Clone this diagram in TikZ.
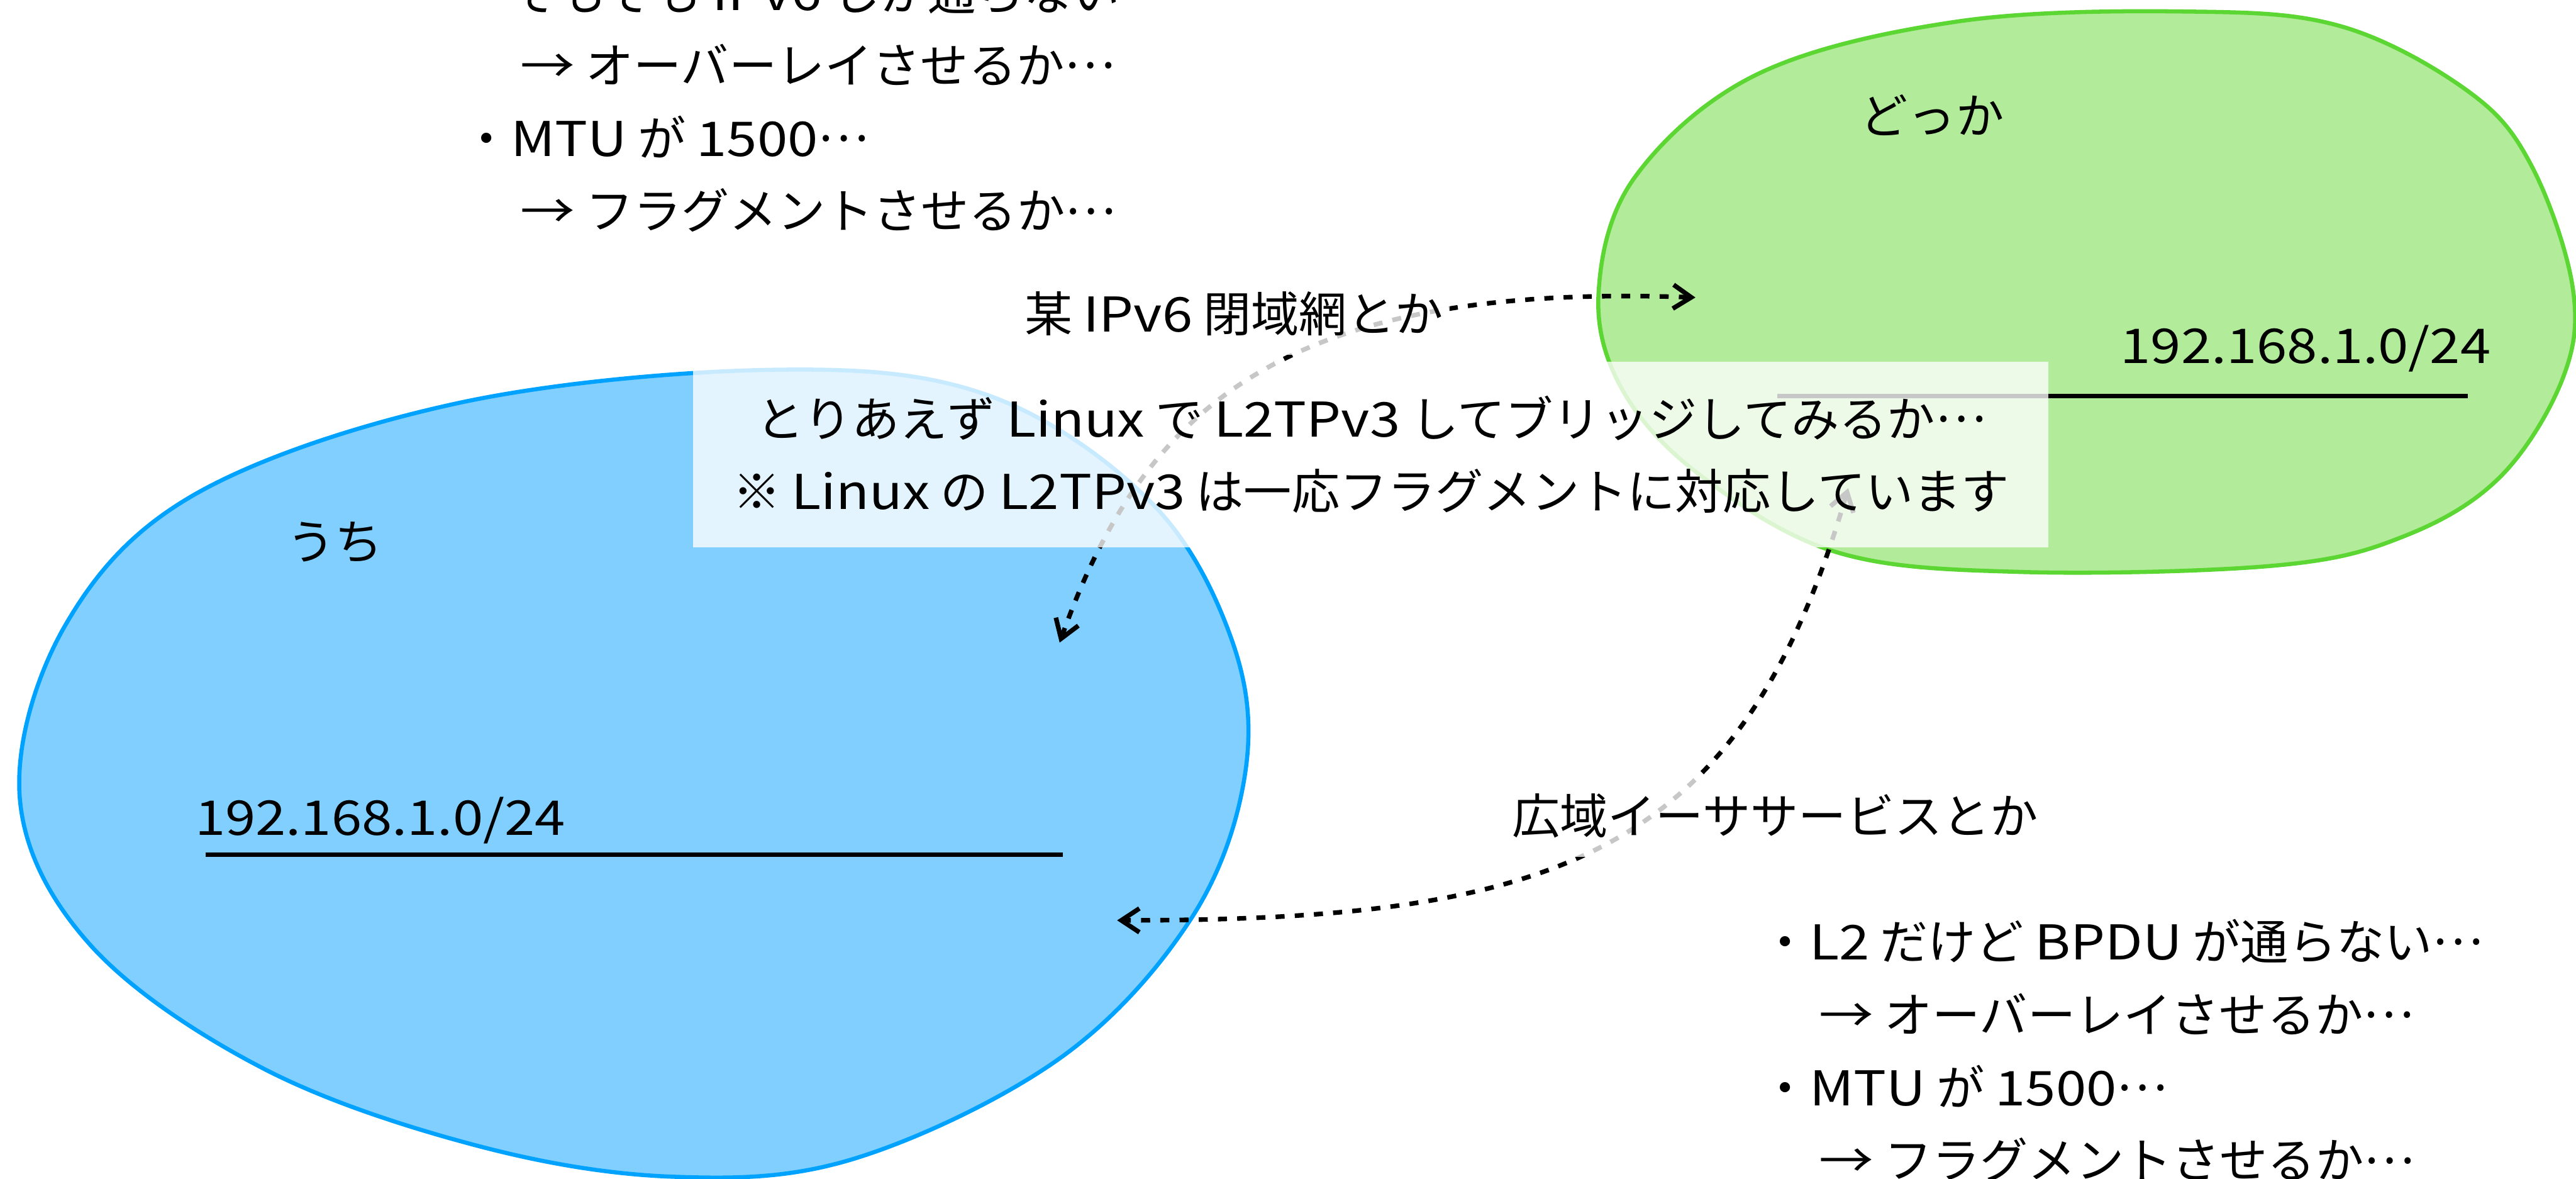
\documentclass[tikz,border=0pt]{standalone}
\usepackage{fontspec}
\setmainfont{Noto Sans CJK JP}
\newfontfamily\latinface{Noto Sans CJK JP}[FakeStretch=1.14]
\newcommand\lat[1]{{\latinface #1}}
\newcommand\ten{\raisebox{0.31em}{…}}
\newcommand\yaji{{\latinface →}}
\usetikzlibrary{arrows.meta}
\definecolor{uchifill}{HTML}{80CFFF}
\definecolor{uchiline}{HTML}{00A2FF}
\definecolor{dokkafill}{HTML}{B2EB99}
\definecolor{dokkaline}{HTML}{5CD632}

\begin{document}
\begin{tikzpicture}[
    x=0.1mm, y=-0.1mm,
    every node/.style={font=\fontsize{8.3}{12.6}\selectfont, inner sep=0pt},
    cloud/.style={line width=0.25mm},
    lan/.style={line width=0.28mm},
    link/.style={line width=0.28mm, dash pattern=on 0.55mm off 0.62mm,
      >={Straight Barb[length=1.1mm,width=1.45mm]}, <->},
    veil/.style={fill=white, fill opacity=0.78, text opacity=1},
    tag/.style={veil, minimum height=5mm, inner xsep=0.4mm}
  ]
  \path[use as bounding box, clip] (0,0) rectangle (1568,717);

  % the two sites
  \filldraw[cloud, fill=uchifill, draw=uchiline] plot[smooth cycle, tension=0.6] coordinates {
    (12,485) (40,380) (120,300) (280,245) (470,225) (600,240) (700,305)
    (750,390) (758,470) (725,559) (645,644) (520,705) (410,716)
    (290,697) (160,650) (55,575)};
  \filldraw[cloud, fill=dokkafill, draw=dokkaline] plot[smooth cycle, tension=0.6] coordinates {
    (973,179) (995,108) (1070,45) (1192,13) (1331,7) (1425,16) (1503,56)
    (1541,101) (1566,175) (1560,230) (1522,290) (1464,326) (1386,344)
    (1230,348) (1118,336) (1036,290) (988,238)};

  \node (uchi) at (204,330) {うち};
  \node (dokka) at (1176,70) {どっか};

  % segments
  \coordinate (uchi-l) at (125,520);
  \coordinate (uchi-r) at (647,520);
  \coordinate (dokka-l) at (1082,241);
  \coordinate (dokka-r) at (1502,241);
  \draw[lan] (uchi-l) -- (uchi-r);
  \draw[lan] (dokka-l) -- (dokka-r);
  \node[anchor=base west] (uchi-net) at (118,508) {\lat{192.168.1.0/24}};
  \node[anchor=base west] (dokka-net) at (1290,221) {\lat{192.168.1.0/24}};

  % links between the sites
  \coordinate (uchi-in) at (645,391);
  \coordinate (dokka-in) at (1032,181);
  \coordinate (dokka-out) at (1125,297);
  \coordinate (uchi-out) at (680,560);
  \draw[link] (uchi-in) .. controls (697,245) and (785,172) .. (dokka-in);
  \draw[link] (dokka-out) .. controls (1060,520) and (950,560) .. (uchi-out);
  \node[tag] (v6) at (751,191) {某 \lat{IPv6} 閉域網とか};
  \node[tag] (ether) at (1080.5,496.5) {広域イーササービスとか};

  \node[veil, minimum width=82.5mm, minimum height=11.3mm, align=center] (note) at (834.5,276.5)
    {とりあえず \lat{Linux} で \lat{L2TPv3} してブリッジしてみるか\ten\\
     ※ \lat{Linux} の \lat{L2TPv3} は一応フラグメントに対応しています};

  % concerns for each link
  \node[anchor=base west] (v6-a) at (281,6.4) {・そもそも \lat{IPv6} しか通らない\ten};
  \node[anchor=base west] (v6-b) at (316,50.7) {\yaji{} オーバーレイさせるか\ten};
  \node[anchor=base west] (v6-c) at (281,95) {・\lat{MTU} が \lat{1500}\ten};
  \node[anchor=base west] (v6-d) at (316,139.3) {\yaji{} フラグメントさせるか\ten};
  \node[anchor=base west] (eth-a) at (1071.5,584) {・\lat{L2} だけど \lat{BPDU} が通らない\ten};
  \node[anchor=base west] (eth-b) at (1106.5,628.3) {\yaji{} オーバーレイさせるか\ten};
  \node[anchor=base west] (eth-c) at (1071.5,672.6) {・\lat{MTU} が \lat{1500}\ten};
  \node[anchor=base west] (eth-d) at (1106.5,716.9) {\yaji{} フラグメントさせるか\ten};
\end{tikzpicture}
\end{document}
